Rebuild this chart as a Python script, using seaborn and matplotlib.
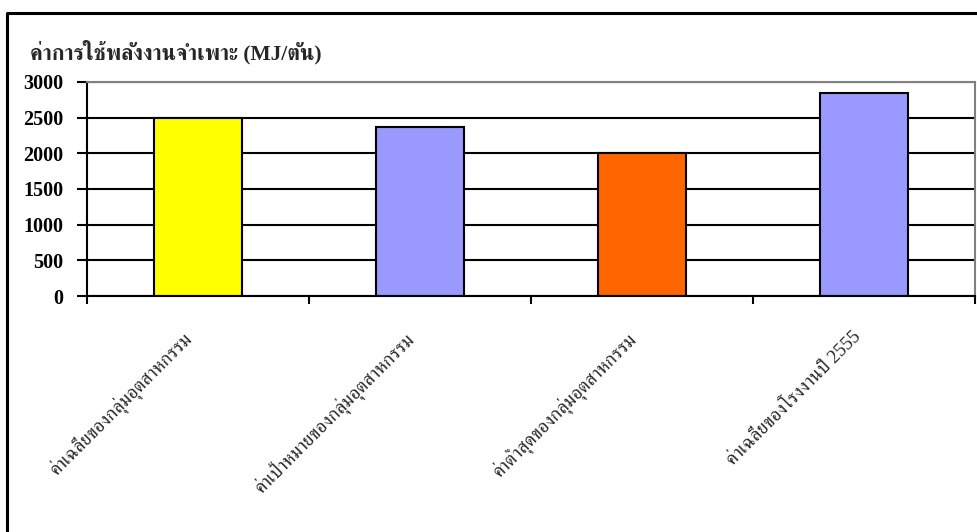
import matplotlib
matplotlib.use("Agg")
import matplotlib.pyplot as plt
import matplotlib.transforms as mtransforms
import seaborn as sns
from matplotlib import font_manager
from matplotlib.lines import Line2D
from matplotlib.ticker import FixedLocator

# ------------------------------------------------------------------
# data
# ------------------------------------------------------------------
categories = [
    "ค่าเฉลี่ยของกลุ่มอุตสาหกรรม",
    "ค่าเป้าหมายของกลุ่มอุตสาหกรรม",
    "ค่าต่ำสุดของกลุ่มอุตสาหกรรม",
    "ค่าเฉลี่ยของโรงงานปี 2555",
]
values = [2500, 2370, 2000, 2840]
bar_colors = ["#FFFF00", "#9999FF", "#FF6600", "#9999FF"]
y_ticks = [0, 500, 1000, 1500, 2000, 2500, 3000]
title = "ค่าการใช้พลังงานจำเพาะ (MJ/ตัน)"


def find_thai_fonts():
    """Return installed family names that carry Thai glyphs, serif first."""
    try:
        from fontTools.ttLib import TTFont
    except ImportError:
        return []
    names = []
    for f in font_manager.fontManager.ttflist:
        try:
            tt = TTFont(f.fname, fontNumber=0, lazy=True)
            cmap = tt.getBestCmap() or {}
            if 0x0E01 in cmap and f.name not in names:
                names.append(f.name)
        except Exception:
            continue
    serif_words = ("Serif", "Norasi", "Kinnari", "Garuda", "Angsana", "Cordia")
    names.sort(key=lambda n: 0 if any(w in n for w in serif_words) else 1)
    return names


sns.set_theme(style="white")
thai_fonts = find_thai_fonts()
families = ["Liberation Serif"] + thai_fonts + ["DejaVu Serif"]
plt.rcParams["font.family"] = families

fig = plt.figure(figsize=(9.78, 5.32), dpi=100)
W, H = 978, 532
ax = fig.add_axes([87 / W, 1 - 296 / H, (975 - 87) / W, (296 - 82) / H])

sns.barplot(x=categories, y=values, hue=categories, palette=bar_colors,
            width=0.4, edgecolor="black", linewidth=1.5, legend=False,
            saturation=1, ax=ax, zorder=3)

ax.set_xlim(-0.5, len(categories) - 0.5)
ax.set_ylim(0, 3000)
ax.set_yticks(y_ticks)
ax.set_yticklabels([str(v) for v in y_ticks], fontsize=14.5, fontweight="bold")
ax.yaxis.grid(True, color="black", linewidth=1.5, zorder=0)
ax.set_axisbelow(True)

# category labels sit at the centres, tick marks at the boundaries
ax.set_xticks(range(len(categories)))
ax.set_xticklabels(categories, rotation=45, ha="right", fontsize=13.5)
shift = mtransforms.ScaledTranslation(-6 / 100, 0, fig.dpi_scale_trans)
for lbl in ax.get_xticklabels():
    lbl.set_transform(lbl.get_transform() + shift)
ax.xaxis.set_minor_locator(FixedLocator([i - 0.5 for i in range(len(categories) + 1)]))
ax.tick_params(axis="x", which="major", length=0, pad=23)
ax.tick_params(axis="x", which="minor", bottom=True, length=6, width=1.5, color="black")
ax.tick_params(axis="y", left=True, length=7, width=1.5, color="black", pad=10,
               labelcolor="black")
ax.set_xlabel("")
ax.set_ylabel("")

for side in ("left", "bottom"):
    ax.spines[side].set_color("black")
    ax.spines[side].set_linewidth(1.5)
for side in ("top", "right"):
    ax.spines[side].set_visible(True)
    ax.spines[side].set_color("#808080")
    ax.spines[side].set_linewidth(1.5)
for sp in ax.spines.values():
    sp.set_zorder(4)

fig.text(30 / W, 1 - 59 / H, title, fontsize=15.5, fontweight="bold",
         ha="left", va="baseline")

# outer chart frame (only top and left edges are visible in the crop)
fig.add_artist(Line2D([7.5 / W, 7.5 / W, 1.0], [0.0, 1 - 12.5 / H, 1 - 12.5 / H],
                      transform=fig.transFigure, color="black", linewidth=2.2))

fig.savefig("out.png", dpi=100, facecolor="white")
